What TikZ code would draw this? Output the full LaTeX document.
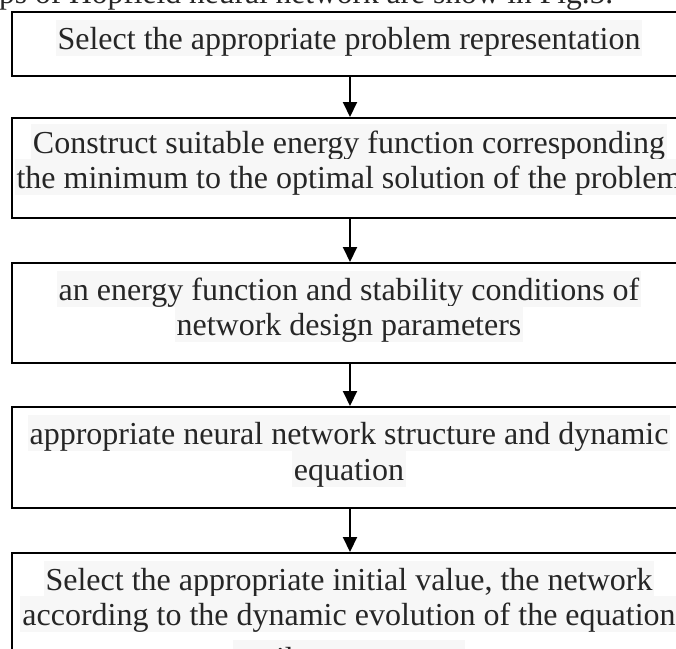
\documentclass[tikz,border=0pt]{standalone}
\usepackage{fontspec}
\setmainfont{Liberation Serif}
\usetikzlibrary{arrows.meta}
\definecolor{hl}{HTML}{F7F7F7}
\definecolor{ink}{HTML}{262626}
\begin{document}
\begin{tikzpicture}[x=1pt,y=-1pt,
  box/.style={draw=black, line width=2pt, minimum width=676pt, inner sep=0pt, anchor=north west},
  ln/.style={fill=hl, text=ink, font=\fontsize{32}{36}\selectfont, inner xsep=2pt, inner ysep=0pt, text height=29pt, text depth=7pt, anchor=base},
  flow/.style={line width=2pt, -{Triangle[length=15pt,width=14pt]}}]
\useasboundingbox (0,0) rectangle (676,648);
\clip (0,0) rectangle (676,648);
% caption line above (cut off by the frame)
\node[text=ink, font=\fontsize{31.5}{35}\selectfont, anchor=base west, inner sep=0pt] (cap) at (-1,3) {ps of Hopfield neural network are show in Fig.5.};
% texts
\node[ln] (t1)  at (349,49)  {Select the appropriate problem representation};
\node[ln] (t2a) at (349,153) {Construct suitable energy function corresponding~};
\node[ln] (t2b) at (349,188) {the minimum to the optimal solution of the problem};
\node[ln] (t3a) at (349,300) {an energy function and stability conditions of~};
\node[ln] (t3b) at (349,335) {network design parameters};
\node[ln] (t4a) at (349,444) {appropriate neural network structure and dynamic~};
\node[ln] (t4b) at (349,480) {equation};
\node[ln] (t5a) at (349,590) {Select the appropriate initial value, the network~};
\node[ln] (t5b) at (349,625) {according to the dynamic evolution of the equation};
\node[ln] (t5c) at (349,669) {until convergence};
% boxes (drawn over the text highlights)
\node[box, minimum height=64pt]  (b1) at (11,11)  {};
\node[box, minimum height=100pt] (b2) at (11,117) {};
\node[box, minimum height=100pt] (b3) at (11,262) {};
\node[box, minimum height=101pt] (b4) at (11,406) {};
\node[box, minimum height=150pt] (b5) at (11,552) {};
% connectors
\draw[flow] (b1.south) -- (b2.north);
\draw[flow] (b2.south) -- (b3.north);
\draw[flow] (b3.south) -- (b4.north);
\draw[flow] (b4.south) -- (b5.north);
\end{tikzpicture}
\end{document}
